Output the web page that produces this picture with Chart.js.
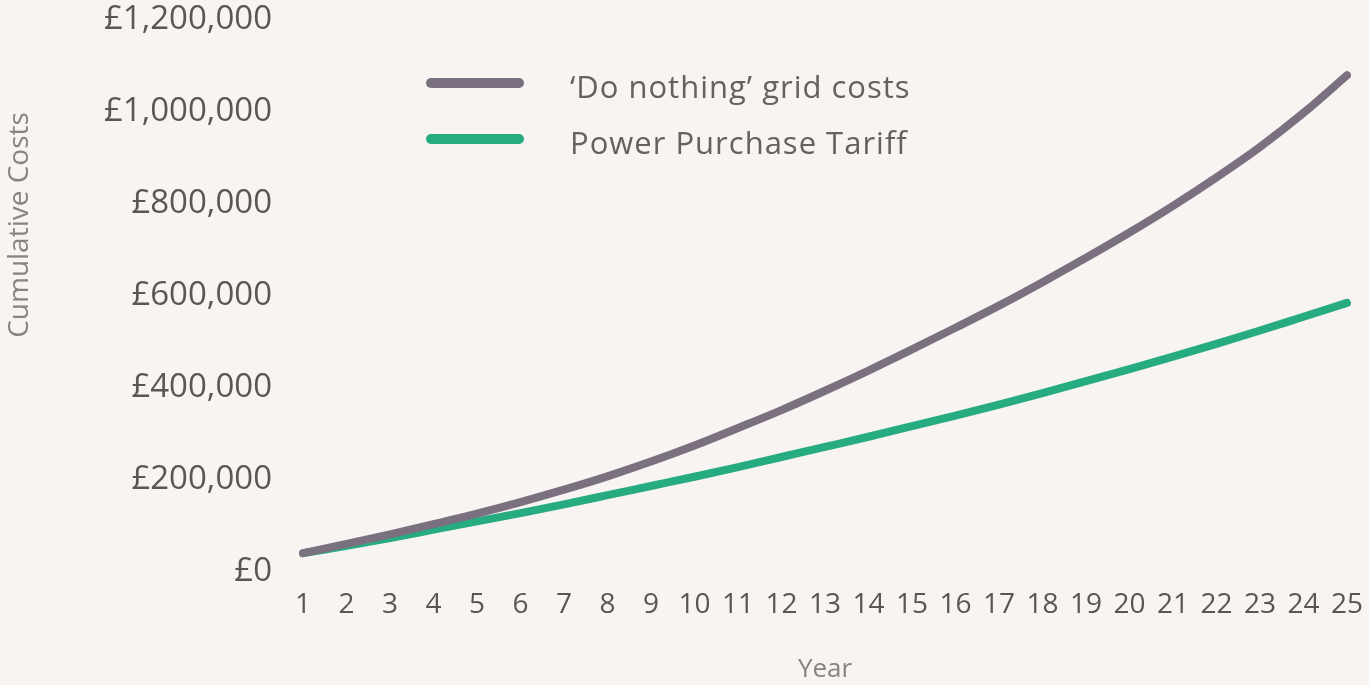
<!DOCTYPE html>
<html>
<head>
<meta charset="utf-8">
<script src="https://cdn.jsdelivr.net/npm/chart.js@4/dist/chart.umd.min.js"></script>
<style>
  html, body { margin: 0; padding: 0; background: #f7f4f1; }
  #wrap { width: 1369px; height: 685px; }
</style>
</head>
<body>
<div id="wrap"><canvas id="costChart" width="1369" height="685"></canvas></div>
<script>
// values (cumulative £)
const years = ['1','2','3','4','5','6','7','8','9','10','11','12','13','14','15','16','17','18','19','20','21','22','23','24','25'];
const gridCosts = [41000, 61000, 82000, 104000, 127000, 152000, 179000, 208000, 240000, 275000, 313000, 352000, 394000, 438000, 484000, 531000, 579000, 630000, 683000, 738000, 796000, 858000, 924000, 998000, 1080000];
const tariffCosts = [41000, 57000, 74000, 92000, 110000, 128000, 147000, 167000, 187000, 207000, 228000, 250000, 272000, 294000, 317000, 340000, 364000, 389000, 415000, 441000, 468000, 496000, 525000, 555000, 585000];
const seriesNames = ["\u2018Do nothing\u2019 grid costs", "Power Purchase Tariff"];
const yTitle = 'Cumulative Costs';
const yMax = 1200000;
const yStep = 200000;

const greyCol = '#7a7080';
const greenCol = '#27ab80';
const textCol = '#5b5653';
const fontFam = '"Open Sans", sans-serif';

// legend + y title drawn by hand (the original places them freely)
const legendPlugin = {
  id: 'sideLegend',
  afterDraw(chart) {
    const ctx = chart.ctx;
    const rows = [83, 139];
    ctx.save();
    chart.data.datasets.forEach((ds, i) => {
      ctx.strokeStyle = ds.borderColor;
      ctx.lineWidth = 10;
      ctx.lineCap = 'round';
      ctx.beginPath();
      ctx.moveTo(431, rows[i]);
      ctx.lineTo(519, rows[i]);
      ctx.stroke();
      ctx.fillStyle = '#66615e';
      ctx.font = '31px ' + fontFam;
      ctx.letterSpacing = '1px';
      ctx.textBaseline = 'middle';
      ctx.fillText(ds.label, 570, rows[i] + 6);
    });
    ctx.letterSpacing = '0px';
    ctx.translate(20, 225);
    ctx.rotate(-Math.PI / 2);
    ctx.fillStyle = '#8a8480';
    ctx.font = '28px ' + fontFam;
    ctx.textAlign = 'center';
    ctx.textBaseline = 'middle';
    ctx.fillText(yTitle, 0, 0);
    ctx.restore();
  }
};

let miCanvas = document.getElementById('costChart').getContext('2d');

const costChart = new Chart(miCanvas, {
  type: 'line',
  data: {
    labels: years,
    datasets: [
      {
        label: seriesNames[0],
        data: gridCosts,
        borderColor: greyCol,
        backgroundColor: greyCol,
        borderWidth: 8,
        borderCapStyle: 'round',
        pointRadius: 0,
        cubicInterpolationMode: 'monotone'
      },
      {
        label: seriesNames[1],
        data: tariffCosts,
        borderColor: greenCol,
        backgroundColor: greenCol,
        borderWidth: 8,
        borderCapStyle: 'round',
        pointRadius: 0,
        cubicInterpolationMode: 'monotone'
      }
    ]
  },
  options: {
    responsive: false,
    animation: false,
    layout: { padding: { top: 20, right: 22, left: 0, bottom: 0 } },
    plugins: {
      legend: { display: false },
      tooltip: { enabled: false }
    },
    scales: {
      x: {
        offset: false,
        grid: { display: false },
        border: { display: false },
        ticks: {
          autoSkip: false,
          maxRotation: 0,
          padding: 8,
          color: textCol,
          font: { family: fontFam, size: 28 }
        },
        title: {
          display: true,
          text: 'Year',
          color: '#8a8480',
          font: { family: fontFam, size: 26 },
          padding: { top: 0, bottom: 0 }
        },
        afterFit(scale) { scale.height = 113; scale.paddingLeft = 0; scale.paddingRight = 0; }
      },
      y: {
        min: 0,
        max: yMax,
        grid: { display: false },
        border: { display: false },
        ticks: {
          stepSize: yStep,
          padding: 23,
          color: textCol,
          font: { family: fontFam, size: 33 },
          callback: v => '\u00a3' + v.toLocaleString('en-GB')
        },
        afterFit(scale) { scale.width = 303; scale.paddingTop = 0; scale.paddingBottom = 0; }
      }
    }
  },
  plugins: [legendPlugin]
});
</script>
</body>
</html>
